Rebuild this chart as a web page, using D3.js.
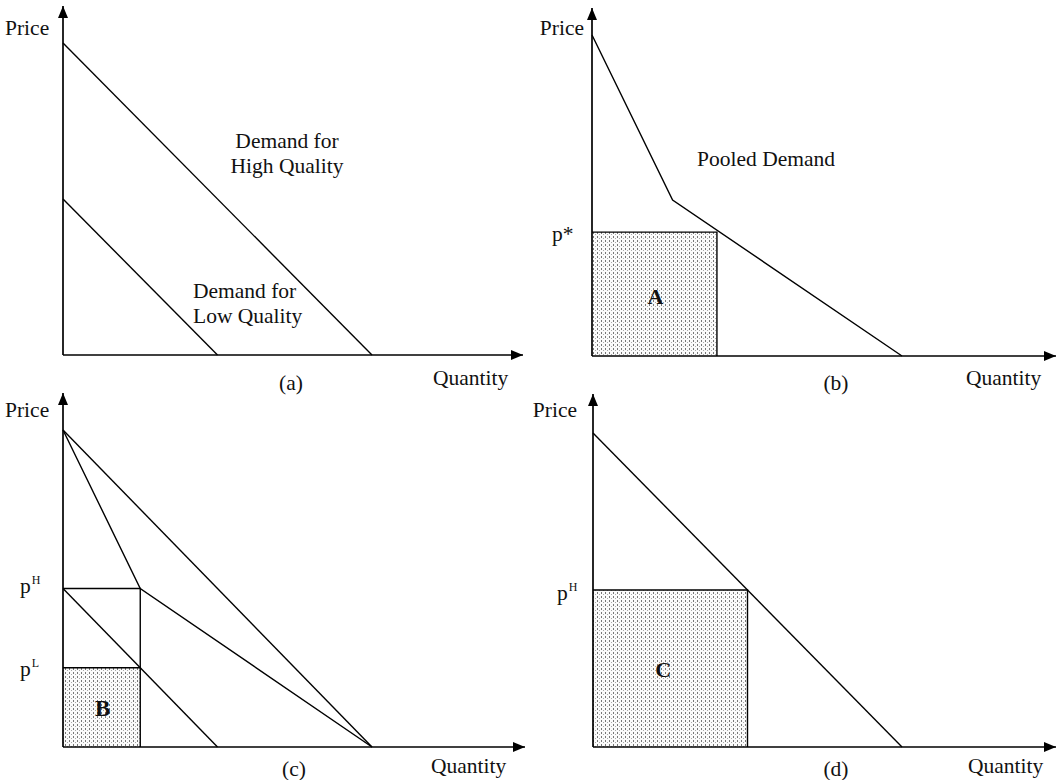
<!DOCTYPE html>
<html>
<head>
<meta charset="utf-8">
<script src="https://cdn.jsdelivr.net/npm/d3@7"></script>
<style>
  html, body { margin: 0; padding: 0; background: #fff; }
  svg { display: block; }
  text { font-family: "Liberation Serif", "DejaVu Serif", serif; fill: #111; }
</style>
</head>
<body>
<svg id="chart" width="1059" height="780"></svg>
<script>
// ---------- data (price/quantity units) ----------
const highQualityDemand = [[0, 10], [10, 0]];
const lowQualityDemand  = [[0, 5], [5, 0]];
const pooledDemand      = [[0, 10], [2.6, 4.86], [10, 0]];
const pooledPrice = 3.86;        // p*
const pooledQuantity = 4.03;
const separatingKinked  = [[0, 10], [2.5, 5], [10, 0]];
const separatingHigh    = [[0, 10], [10, 0]];
const separatingLow     = [[0, 5], [5, 0]];
const priceHighC = 5, priceLowC = 2.5, quantityC = 2.5;
const demandD = [[0, 10], [10, 0]];
const priceHighD = 5, quantityD = 5;
const panelLabels = ["(a)", "(b)", "(c)", "(d)"];
const axisLabels = { x: "Quantity", y: "Price" };

// ---------- layout ----------
const frames = {
  a: { x0: 63,  x10: 372, y0: 355, y10: 43,  xTip: 523,  yTip: 6 },
  b: { x0: 592, x10: 902, y0: 356, y10: 35,  xTip: 1056, yTip: 8 },
  c: { x0: 63,  x10: 372, y0: 747, y10: 430, xTip: 525,  yTip: 393 },
  d: { x0: 593, x10: 902, y0: 747, y10: 433, xTip: 1056, yTip: 394 }
};

const svg = d3.select("#chart");
const defs = svg.append("defs");

defs.append("marker")
  .attr("id", "arrow")
  .attr("viewBox", "0 0 12 10")
  .attr("refX", 12).attr("refY", 5)
  .attr("markerWidth", 12).attr("markerHeight", 10)
  .attr("markerUnits", "userSpaceOnUse")
  .attr("orient", "auto")
  .append("path").attr("d", "M0,0 L12,5 L0,10 Z").attr("fill", "#000");

const pat = defs.append("pattern")
  .attr("id", "stipple").attr("patternUnits", "userSpaceOnUse")
  .attr("width", 4).attr("height", 4);
pat.append("rect").attr("width", 4).attr("height", 4).attr("fill", "#fbfbfb");
pat.append("rect").attr("x", 1).attr("y", 0).attr("width", 1).attr("height", 2).attr("fill", "#777");
pat.append("rect").attr("x", 3).attr("y", 2).attr("width", 1).attr("height", 1).attr("fill", "#aaa");

function makeScales(f) {
  const x = d3.scaleLinear().domain([0, 10]).range([f.x0, f.x10]);
  const y = d3.scaleLinear().domain([0, 10]).range([f.y0, f.y10]);
  return { x, y };
}

function drawPanel(key) {
  const f = frames[key];
  const s = makeScales(f);
  const g = svg.append("g");
  const line = d3.line().x(d => s.x(d[0])).y(d => s.y(d[1]));
  g.s = s; g.line = line; g.key = key;
  return g;
}

function axes(g) {
  const s = g.s;
  const qMax = s.x.invert(frames[g.key].xTip);
  const pMax = s.y.invert(frames[g.key].yTip);
  g.append("path").attr("d", g.line([[0, 0], [qMax, 0]]))
    .attr("stroke", "#000").attr("stroke-width", 1.7).attr("fill", "none")
    .attr("marker-end", "url(#arrow)");
  g.append("path").attr("d", g.line([[0, 0], [0, pMax]]))
    .attr("stroke", "#000").attr("stroke-width", 1.7).attr("fill", "none")
    .attr("marker-end", "url(#arrow)");
}

function curve(g, pts) {
  g.append("path").attr("d", g.line(pts))
    .attr("stroke", "#000").attr("stroke-width", 1.4).attr("fill", "none");
}

function box(g, q, p, fill) {
  const s = g.s;
  g.append("rect")
    .attr("x", s.x(0)).attr("y", s.y(p))
    .attr("width", s.x(q) - s.x(0)).attr("height", s.y(0) - s.y(p))
    .attr("fill", fill ? "url(#stipple)" : "none");
}

const FS = 21.5;
function text(g, str, x, y, opts = {}) {
  return g.append("text").attr("x", x).attr("y", y)
    .attr("font-size", opts.size || FS)
    .attr("text-anchor", opts.anchor || "start")
    .attr("font-weight", opts.weight || "normal")
    .text(str);
}

function priceSup(g, x, y, sup) {
  const t = g.append("text").attr("x", x).attr("y", y).attr("font-size", FS);
  t.append("tspan").text("p");
  t.append("tspan").attr("font-size", 12).attr("dy", -9).attr("dx", 1).text(sup);
}

// ----- panel (a) -----
const ga = drawPanel("a");
curve(ga, highQualityDemand);
curve(ga, lowQualityDemand);
axes(ga);
text(ga, axisLabels.y, 5, 35);
text(ga, axisLabels.x, 433, 385);
text(ga, panelLabels[0], 291, 390, { anchor: "middle" });
text(ga, "Demand for", 287, 148, { anchor: "middle" });
text(ga, "High Quality", 287, 173, { anchor: "middle" });
text(ga, "Demand for", 193, 298);
text(ga, "Low Quality", 193, 323);

// ----- panel (b) -----
const gb = drawPanel("b");
box(gb, pooledQuantity, pooledPrice, true);
curve(gb, [[0, pooledPrice], [pooledQuantity, pooledPrice], [pooledQuantity, 0]]);
curve(gb, pooledDemand);
axes(gb);
text(gb, axisLabels.y, 584, 35, { anchor: "end" });
text(gb, axisLabels.x, 966, 385);
text(gb, panelLabels[1], 836, 390, { anchor: "middle" });
text(gb, "Pooled Demand", 835, 166, { anchor: "end" });
text(gb, "p*", 552, 241);
text(gb, "A", gb.s.x(pooledQuantity / 2) + 1, 304, { anchor: "middle", size: 22, weight: "bold" });

// ----- panel (c) -----
const gc = drawPanel("c");
box(gc, quantityC, priceLowC, true);
curve(gc, [[0, priceHighC], [quantityC, priceHighC], [quantityC, 0]]);
curve(gc, [[0, priceLowC], [quantityC, priceLowC]]);
curve(gc, separatingHigh);
curve(gc, separatingKinked);
curve(gc, separatingLow);
axes(gc);
text(gc, axisLabels.y, 5, 417);
text(gc, axisLabels.x, 431, 773);
text(gc, panelLabels[2], 294, 776, { anchor: "middle" });
priceSup(gc, 20, 593, "H");
priceSup(gc, 20, 676, "L");
text(gc, "B", gc.s.x(quantityC / 2) + 1, 716, { anchor: "middle", size: 23, weight: "bold" });

// ----- panel (d) -----
const gd = drawPanel("d");
box(gd, quantityD, priceHighD, true);
curve(gd, [[0, priceHighD], [quantityD, priceHighD], [quantityD, 0]]);
curve(gd, demandD);
axes(gd);
text(gd, axisLabels.y, 577, 417, { anchor: "end" });
text(gd, axisLabels.x, 968, 773);
text(gd, panelLabels[3], 836, 776, { anchor: "middle" });
priceSup(gd, 557, 600, "H");
text(gd, "C", gd.s.x(quantityD / 2) - 7, 677, { anchor: "middle", size: 22, weight: "bold" });
</script>
</body>
</html>
